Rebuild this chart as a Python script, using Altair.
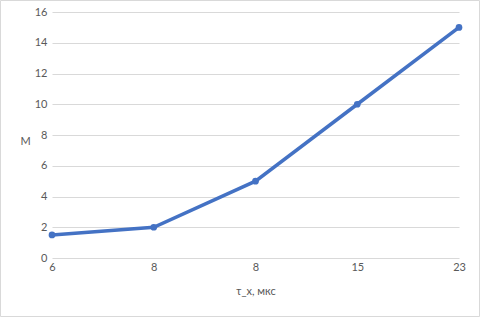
import altair as alt
import pandas as pd

x_labels = ["6", "8", "8", "15", "23"]
m_values = [1.5, 2.0, 5.0, 10.0, 15.0]

df = pd.DataFrame({"idx": list(range(len(x_labels))), "label": x_labels, "M": m_values})

label_expr = "[" + ",".join("'" + s + "'" for s in x_labels) + "][datum.value]"

base = alt.Chart(df)

x_enc = alt.X(
    "idx:Q",
    scale=alt.Scale(domain=[0, len(x_labels) - 1], nice=False, zero=False),
    axis=alt.Axis(
        values=list(range(len(x_labels))),
        labelExpr=label_expr,
        labelFlush=False, labelOverlap=False,
        grid=False, domain=False, ticks=False,
        labelPadding=3,
        title="τ_x, мкс",
        titlePadding=13,
        titleFontWeight="normal",
    ),
)
y_enc = alt.Y(
    "M:Q",
    scale=alt.Scale(domain=[0, 16], nice=False),
    axis=alt.Axis(
        values=list(range(0, 17, 2)),
        labelOverlap=False, labelFlush=False,
        grid=True, gridColor="#d9d9d9", domain=False, ticks=False,
        labelPadding=5,
        title="M", titleAngle=0, titleX=-27, titleY=129,
        titleAlign="center", titleBaseline="middle",
        titleFontWeight="normal",
    ),
)

line = base.mark_line(color="#4472C4", strokeWidth=3.5).encode(x=x_enc, y=y_enc)
pts = base.mark_point(color="#4472C4", filled=True, size=45, opacity=1).encode(x=x_enc, y=y_enc)

border = alt.Chart(pd.DataFrame({"a": [0]})).mark_rect(
    fill=None, stroke="#d9d9d9", strokeWidth=1, clip=False
).encode(
    x=alt.value(-51.5), x2=alt.value(427.5), y=alt.value(-11.5), y2=alt.value(304.5)
)

chart = alt.layer(border, line, pts).properties(
    width=407, height=246,
    background="white",
    autosize=alt.AutoSizeParams(type="none"),
    padding={"left": 52, "top": 12, "right": 21, "bottom": 59},
).configure_view(stroke=None).configure_axis(
    labelFont="Lato", titleFont="Lato", labelFontSize=11, titleFontSize=11,
    labelColor="#595959", titleColor="#595959",
)

chart.save("out.html", embed_options={"renderer": "svg", "actions": False})
